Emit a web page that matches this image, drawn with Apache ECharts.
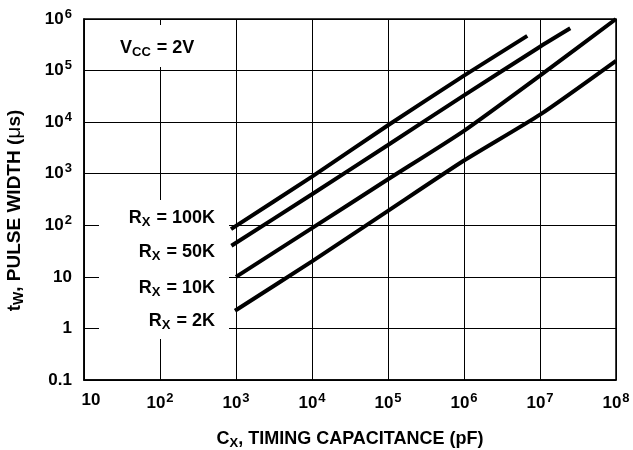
<!DOCTYPE html>
<html>
<head>
<meta charset="utf-8">
<script src="https://cdn.jsdelivr.net/npm/echarts@6/dist/echarts.min.js"></script>
<style>
  html, body { margin: 0; padding: 0; background: #fff; }
  #chart { width: 633px; height: 450px; }
</style>
</head>
<body>
<div id="chart"></div>
<script>
// values (log-log)
var rx100kX = [860, 1e4, 1e5, 1e6, 6.8e6];
var rx100kY = [84, 880, 8.7e3, 8e4, 4.7e5];
var rx50kX = [870, 1e4, 1e5, 1e6, 1e7, 2.5e7];
var rx50kY = [40, 400, 3.6e3, 3.3e4, 2.9e5, 6.6e5];
var rx10kX = [1e3, 1e4, 1e5, 1e6, 1e7, 1e8];
var rx10kY = [10, 88, 780, 6.8e3, 8e4, 1e6];
var rx2kX = [970, 1e4, 1e5, 1e6, 1e7, 1e8];
var rx2kY = [2.2, 20, 190, 1.8e3, 1.4e4, 1.55e5];

var FONT = 'Liberation Sans, Arial, sans-serif';

function pairs(xs, ys) {
  var out = [];
  for (var i = 0; i < xs.length; i++) out.push([xs[i], ys[i]]);
  return out;
}

function powLabel(v) {
  var e = Math.round(Math.log10(v));
  if (e == -1) return '{b|0.1}';
  if (e == 0) return '{b|1}';
  if (e == 1) return '{b|10}';
  return '{b|10}{s|' + e + '}';
}

function powLabelX(v) {
  var e = Math.round(Math.log10(v));
  if (e == 1) return '{f|10}';
  return powLabel(v);
}

var labelRich = {
  b: { fontSize: 17, fontWeight: 'bold', fontFamily: FONT, color: '#000' },
  f: { fontSize: 17, fontWeight: 'bold', fontFamily: FONT, color: '#000', padding: [0, 0, 0, 14] },
  s: { fontSize: 13, fontWeight: 'bold', fontFamily: FONT, color: '#000', padding: [0, 0, 10, 1] }
};

function lineSeries(name, xs, ys) {
  return {
    name: name,
    type: 'line',
    data: pairs(xs, ys),
    showSymbol: false,
    symbol: 'none',
    smooth: 0.2,
    lineStyle: { color: '#000', width: 4 },
    silent: true,
    z: 2
  };
}

var annRich = {
  a: { fontSize: 18, fontWeight: 'bold', fontFamily: FONT, fill: '#000' },
  sub: { fontSize: 13, fontWeight: 'bold', fontFamily: FONT, fill: '#000', padding: [9, 1, 0, 0] }
};

function rxText(txt, y) {
  return {
    type: 'text', z: 3,
    style: {
      text: '{a|R}{sub|X}{a| = ' + txt + '}',
      rich: annRich, x: 215, y: y, align: 'right', verticalAlign: 'middle'
    }
  };
}

var nameRich = {
  a: { fontSize: 18, fontWeight: 'bold', fontFamily: FONT, color: '#000' },
  mu: { fontSize: 18, fontFamily: FONT, color: '#000' },
  sub: { fontSize: 13, fontWeight: 'bold', fontFamily: FONT, color: '#000', padding: [9, 0, 0, 0] }
};

var yNameRich = {
  a: { fontSize: 19, fontWeight: 'bold', fontFamily: FONT, color: '#000' },
  e: { fontSize: 19, fontWeight: 'bold', fontFamily: FONT, color: '#000', padding: [0, 22, 0, 0] },
  mu: { fontSize: 21, fontFamily: FONT, color: '#000' },
  sub: { fontSize: 14, fontWeight: 'bold', fontFamily: FONT, color: '#000', padding: [9, 0, 0, 0] }
};

var myChart = echarts.init(document.getElementById('chart'));
var option = {
  backgroundColor: '#fff',
  animation: false,
  grid: {
    left: 84, right: 17, top: 19, bottom: 70,
    outerBoundsMode: 'none', containLabel: false,
    show: true, borderColor: '#000', borderWidth: 1.5
  },
  xAxis: {
    type: 'log', logBase: 10, min: 10, max: 1e8,
    name: '{a|C}{sub|X}{a|, TIMING CAPACITANCE (pF)}',
    nameLocation: 'middle', nameGap: 48,
    nameTextStyle: { rich: nameRich },
    axisLine: { lineStyle: { color: '#000', width: 1.5 } },
    axisTick: { show: false },
    splitLine: { show: true, lineStyle: { color: '#000', width: 1 } },
    axisLabel: { margin: 12, formatter: powLabelX, rich: labelRich }
  },
  yAxis: {
    type: 'log', logBase: 10, min: 0.1, max: 1e6,
    name: '{a|t}{sub|W}{a|, PULSE WIDTH (}{mu|\u03bc}{e|s)}',
    nameLocation: 'middle', nameGap: 58, nameRotate: 90,
    nameTextStyle: { rich: yNameRich },
    axisLine: { lineStyle: { color: '#000', width: 1.5 } },
    axisTick: { show: false },
    splitLine: { show: true, lineStyle: { color: '#000', width: 1 } },
    axisLabel: { margin: 12, formatter: powLabel, rich: labelRich }
  },
  graphic: [
    // white patches behind the annotations (they hide the grid there)
    { type: 'rect', z: 1, shape: { x: 99, y: 200, width: 130, height: 139 }, style: { fill: '#fff' } },
    { type: 'rect', z: 1, shape: { x: 100, y: 25, width: 118, height: 42 }, style: { fill: '#fff' } },
    {
      type: 'text', z: 3,
      style: {
        text: '{a|V}{sub|CC}{a| = 2V}', rich: annRich,
        x: 120, y: 48, align: 'left', verticalAlign: 'middle'
      }
    },
    rxText('100K', 218),
    rxText('50K', 252),
    rxText('10K', 288),
    rxText('2K', 321)
  ],
  series: [
    lineSeries('RX = 100K', rx100kX, rx100kY),
    lineSeries('RX = 50K', rx50kX, rx50kY),
    lineSeries('RX = 10K', rx10kX, rx10kY),
    lineSeries('RX = 2K', rx2kX, rx2kY)
  ]
};
myChart.setOption(option);
</script>
</body>
</html>
